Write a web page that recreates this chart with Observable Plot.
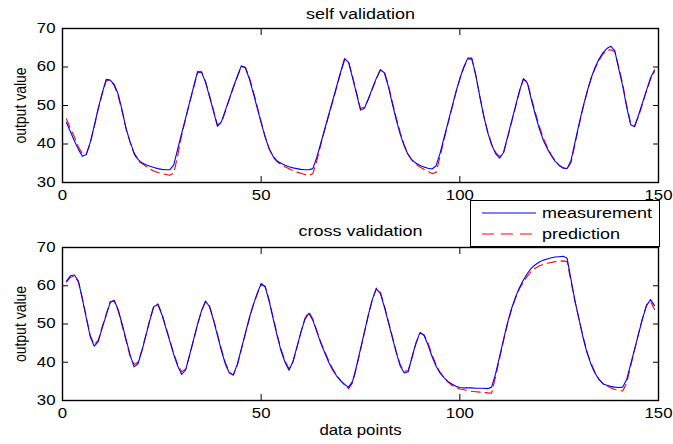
<!DOCTYPE html>
<html>
<head>
<meta charset="utf-8">
<script src="https://cdn.jsdelivr.net/npm/d3@7"></script>
<script src="https://cdn.jsdelivr.net/npm/@observablehq/plot@0.6"></script>
<style>
  html, body { margin: 0; padding: 0; background: #fff; }
  #wrap { position: relative; width: 673px; height: 444px; background: #fff; overflow: hidden; font-family: "Liberation Sans", Arial, sans-serif; }
  #wrap > svg.panel { position: absolute; left: 0; }
</style>
</head>
<body>
<div id="wrap"></div>
<script>
// ---- data ----
const xTicks = [0, 50, 100, 150];
const yTicks = [30, 40, 50, 60, 70];
const seriesNames = ["measurement", "prediction"];
const panelTitles = ["self validation", "cross validation"];
const yLabel = "output value";
const xLabel = "data points";

const selfMeasured = [45.6,43.2,40.8,38.6,36.8,37.3,40.5,44.8,49.3,53.3,56.8,56.6,55.5,53.0,48.8,44.0,40.6,37.7,36.0,35.1,
34.6,34.2,33.9,33.6,33.4,33.3,33.3,34.6,38.7,42.8,46.8,50.9,54.9,58.8,58.6,56.0,52.3,48.5,44.6,45.8,
48.8,51.8,54.8,57.6,60.3,59.8,57.0,53.3,49.4,45.5,41.8,38.8,36.8,35.6,35.0,34.5,34.1,33.8,33.6,33.4,
33.3,33.3,33.6,36.5,40.2,43.9,47.6,51.3,55.0,58.7,62.2,61.2,57.2,53.0,48.8,49.3,51.8,54.5,57.1,59.3,
58.5,55.0,50.5,46.3,42.5,39.5,37.2,35.8,35.0,34.4,34.0,33.7,33.5,34.3,37.5,41.5,45.5,49.5,53.5,57.0,
60.0,62.3,62.3,58.0,52.5,47.3,43.0,39.8,37.5,36.3,37.8,41.8,45.8,49.8,53.8,57.0,55.8,51.5,47.6,44.0,
41.0,38.8,37.0,35.5,34.5,33.8,33.6,35.8,40.5,45.2,49.6,53.5,57.0,59.8,62.0,63.7,64.8,65.4,64.2,59.5,
55.0,49.5,45.0,44.5,47.6,50.8,54.0,57.2,59.2];

const selfPredicted = [46.5,44.0,41.8,39.3,37.5,37.4,40.2,44.5,49.0,53.0,56.4,56.7,55.2,52.5,48.5,44.0,40.5,37.5,35.6,34.9,
34.2,33.5,33.0,32.6,32.3,32.1,31.9,32.4,37.0,42.3,46.5,50.7,54.6,58.5,58.8,56.3,52.6,48.8,45.0,45.5,
48.5,51.6,54.6,57.4,60.0,60.0,57.4,53.8,49.8,45.8,42.0,38.8,36.6,35.4,34.7,34.1,33.6,33.1,32.7,32.4,
32.1,31.8,32.3,35.6,39.8,43.6,47.4,51.0,54.7,58.4,61.8,61.4,57.6,53.4,49.2,49.6,51.6,54.3,56.9,59.2,
58.8,55.4,51.0,46.8,43.0,39.8,37.3,35.7,34.7,34.0,33.4,32.9,32.3,32.6,36.6,41.0,45.2,49.2,53.2,56.8,
59.8,62.0,62.1,57.8,52.5,47.5,43.3,40.0,37.8,36.8,37.6,41.5,45.5,49.5,53.5,56.8,56.2,52.0,48.2,44.6,
41.6,39.2,37.2,35.6,34.4,33.7,33.5,35.2,40.0,44.8,49.3,53.3,56.8,59.5,61.7,63.3,64.3,64.5,64.0,60.0,
55.6,50.0,45.4,44.8,47.2,50.5,53.8,56.8,58.8];

const crossMeasured = [61.2,62.6,62.8,61.2,56.5,51.5,46.6,44.2,45.4,49.0,52.3,55.6,56.2,53.8,50.0,46.0,42.0,38.8,39.6,43.0,
47.0,51.0,54.6,55.1,52.5,49.0,45.5,42.0,39.0,36.8,38.0,42.0,46.0,50.0,53.5,56.0,54.5,51.0,47.0,43.0,
39.5,37.2,36.7,39.5,43.5,47.5,51.5,55.0,58.0,60.6,59.7,56.0,51.5,47.0,43.0,40.0,37.9,40.2,44.0,47.8,
51.2,52.8,51.0,48.0,45.0,42.5,40.0,38.0,36.4,35.2,34.2,33.5,35.0,39.0,43.5,48.0,52.5,56.5,59.2,58.0,
54.5,50.5,46.5,42.5,39.0,37.2,37.5,41.5,45.2,47.8,47.0,44.5,41.5,39.0,37.2,36.0,35.0,34.3,33.7,33.4,
33.3,33.3,33.3,33.2,33.2,33.2,33.1,33.5,37.0,41.5,46.0,50.3,54.0,57.0,59.5,61.5,63.2,64.6,65.5,66.2,
66.7,67.0,67.3,67.5,67.6,67.7,67.2,61.5,56.0,51.2,46.5,42.5,39.5,37.2,35.5,34.4,34.0,33.7,33.5,33.4,
33.5,35.5,39.5,43.5,47.5,51.5,54.8,56.4,54.8];

const crossPredicted = [61.0,62.2,62.5,61.0,56.8,51.8,47.0,44.6,45.8,49.3,52.6,55.9,56.0,53.5,49.6,45.6,41.6,39.4,40.0,43.2,
47.2,51.3,54.8,55.3,52.8,49.3,45.8,42.3,39.4,37.5,38.2,41.8,45.8,49.8,53.4,55.8,54.8,51.3,47.4,43.4,
39.9,37.4,36.6,39.2,43.2,47.3,51.3,54.8,57.8,60.2,59.9,56.3,51.8,47.4,43.4,40.4,38.3,40.0,43.8,47.8,
51.4,53.2,51.3,48.3,45.3,42.8,40.4,38.3,36.6,35.2,34.0,33.1,34.6,38.6,43.2,47.8,52.3,56.4,59.4,58.3,
54.8,50.8,46.8,42.8,39.4,37.6,37.8,41.3,45.0,47.6,47.2,45.0,42.0,39.4,37.4,36.0,34.8,34.0,33.4,33.0,
32.8,32.6,32.4,32.3,32.2,32.1,32.0,31.9,36.2,41.0,45.6,50.0,53.7,56.7,59.2,61.0,62.5,63.8,64.6,65.2,
65.6,65.9,66.1,66.3,66.4,66.5,66.3,61.0,55.8,51.3,46.8,42.8,39.8,37.4,35.6,34.4,33.8,33.3,32.9,32.6,
32.5,34.6,39.0,43.3,47.6,51.6,55.0,56.0,53.8];

// ---- build ----
const FONT = '"Liberation Sans", Arial, Helvetica, sans-serif';
const STRETCH = 1.2;
const MEAS = "#0000ff", PRED = "#ff0000";

function toRows(meas, pred) {
  return meas.map((m, i) => ({x: i + 1, m, p: pred[i]}));
}

function panel({rows, title, height, marginTop, marginBottom, titleDy, showXLabel}) {
  const marks = [
    Plot.line(rows, {x: "x", y: "p", stroke: PRED, strokeWidth: 1.1, strokeDasharray: "9,5"}),
    Plot.line(rows, {x: "x", y: "m", stroke: MEAS, strokeWidth: 1.1}),
    Plot.frame({stroke: "#000", strokeWidth: 1.4}),
    Plot.axisX(xTicks, {anchor: "bottom", tickSize: -6, tickPadding: 14, label: null, fontSize: 14}),
    Plot.axisX(xTicks, {anchor: "top", tickSize: -6, tickFormat: () => "", label: null}),
    Plot.axisY(yTicks, {anchor: "left", tickSize: -6, tickPadding: 13, label: null, fontSize: 14}),
    Plot.axisY(yTicks, {anchor: "right", tickSize: -6, tickFormat: () => "", label: null}),
    Plot.text([title], {frameAnchor: "top", dy: titleDy, text: d => d, fontSize: 15, fill: "#000", textAnchor: "middle", lineAnchor: "middle"}),
    Plot.text([yLabel], {frameAnchor: "left", dx: -42, rotate: -90, text: d => d, fontSize: 14, fill: "#000", textAnchor: "middle", lineAnchor: "middle"})
  ];
  if (showXLabel) marks.push(Plot.text([xLabel], {frameAnchor: "bottom", dy: 30, text: d => d, fontSize: 14, fill: "#000", textAnchor: "middle", lineAnchor: "middle"}));
  const svg = Plot.plot({
    width: 673, height,
    marginLeft: 62, marginRight: 15, marginTop, marginBottom,
    x: {domain: [0, 150]},
    y: {domain: [30, 70]},
    style: {fontFamily: FONT, fontSize: "14px", color: "#000", background: "transparent", overflow: "visible"},
    marks
  });
  svg.classList.add("panel");
  return svg;
}

function stretchText(svg, k) {
  svg.querySelectorAll("text").forEach(t => {
    const tr = t.getAttribute("transform") || "";
    const rotated = /rotate/.test(tr);
    t.setAttribute("transform", tr + (rotated ? ` scale(1,${k})` : ` scale(${k},1)`));
  });
}

const wrap = document.getElementById("wrap");

const topPanel = panel({rows: toRows(selfMeasured, selfPredicted), title: panelTitles[0], height: 205, marginTop: 28, marginBottom: 23, titleDy: -14, showXLabel: false});
topPanel.style.top = "0px";
stretchText(topPanel, STRETCH);
wrap.appendChild(topPanel);

const bottomPanel = panel({rows: toRows(crossMeasured, crossPredicted), title: panelTitles[1], height: 239, marginTop: 42, marginBottom: 44, titleDy: -16.5, showXLabel: true});
bottomPanel.style.top = "205px";
stretchText(bottomPanel, STRETCH);
wrap.appendChild(bottomPanel);

// legend box
const lg = d3.create("svg").attr("width", 190).attr("height", 47)
  .style("font-family", FONT).style("overflow", "visible")
  .style("position", "absolute").style("left", "470px").style("top", "200px").style("z-index", 5);
lg.append("rect").attr("x", 0.5).attr("y", 0.5).attr("width", 189).attr("height", 46)
  .attr("fill", "#fff").attr("stroke", "#000").attr("stroke-width", 1);
const items = [{name: seriesNames[0], color: MEAS, dash: null, y: 13},
               {name: seriesNames[1], color: PRED, dash: "12,7", y: 34}];
items.forEach(it => {
  const l = lg.append("line").attr("x1", 12).attr("x2", 66).attr("y1", it.y).attr("y2", it.y)
    .attr("stroke", it.color).attr("stroke-width", 1.1);
  if (it.dash) l.attr("stroke-dasharray", it.dash);
  lg.append("text").attr("transform", `translate(72,${it.y + 5}) scale(${STRETCH},1)`)
    .attr("font-size", 15).attr("fill", "#000").text(it.name);
});
wrap.appendChild(lg.node());
</script>
</body>
</html>
